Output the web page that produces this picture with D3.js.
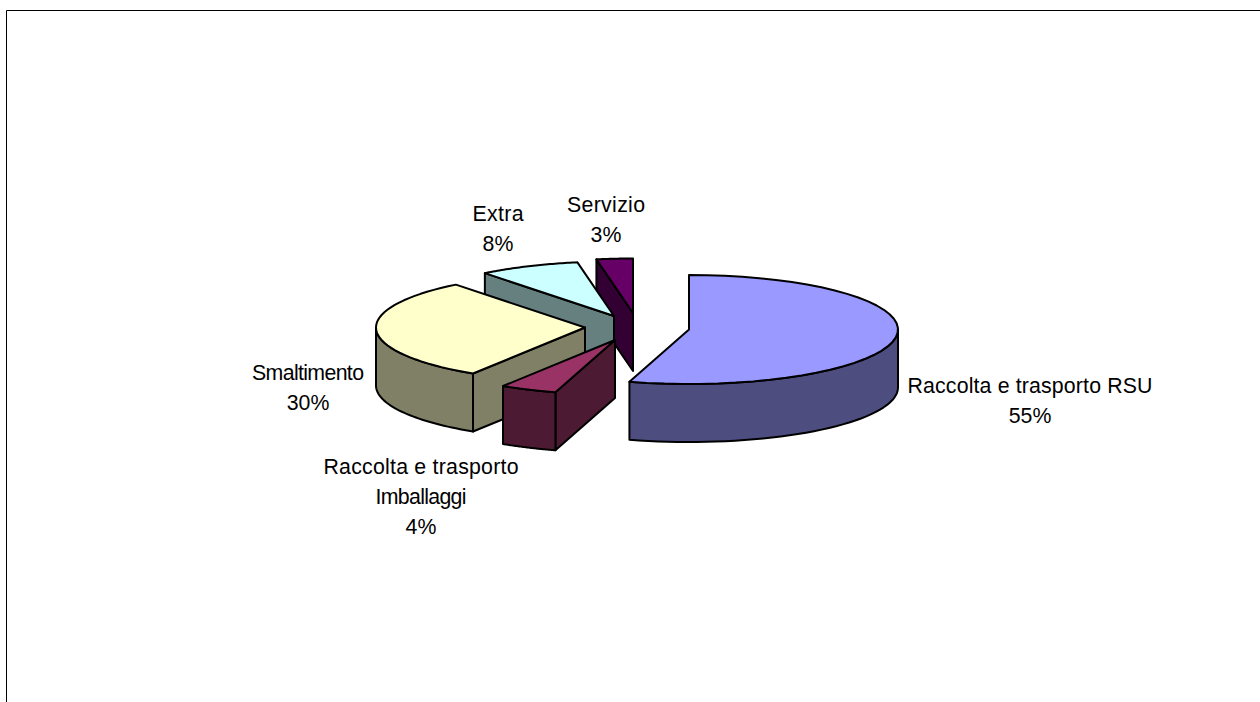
<!DOCTYPE html>
<html><head><meta charset="utf-8">
<script src="https://cdn.jsdelivr.net/npm/d3@7/dist/d3.min.js"></script>
<style>html,body{margin:0;padding:0;background:#fff;overflow:hidden}svg{display:block}</style>
</head><body><svg id="c" width="1260" height="702"></svg>
<script>
// Data
const categories = ["Raccolta e trasporto RSU","Raccolta e trasporto Imballaggi","Smaltimento","Extra","Servizio"];
const values = [54.6,4.4,30.4,7.8,2.8];
const labelLines = [["Raccolta e trasporto RSU"],["Raccolta e trasporto","Imballaggi"],["Smaltimento"],["Extra"],["Servizio"]];
const topColors = ["#9999FF","#993366","#FFFFCC","#CCFFFF","#660066"];
const sideColors = ["#4D4D80","#4D1A33","#808066","#668080","#330033"];

// Layout
const rx = 209, ry = 54.5, depth = 58;
const apexX = [689,615,585,614,633], apexY = [329.5,340,327.5,316,313];
const labelX = [1030,421,308,498,606], labelY = [386,467,373,213.5,205];
const labelWidths = [[245],[195,91],[112],[51],[78]];
const lineGap = 29.8;
const drawOrder = [4,3,2,1,0];

const svg = d3.select("#c");
const slices = d3.pie().sort(null).startAngle(0).endAngle(2*Math.PI)(values);
const line = d3.line();
const rim = (i,a) => [apexX[i]+rx*Math.sin(a), apexY[i]-ry*Math.cos(a)];
const arcPts = (i,a0,a1) => d3.range(0,41).map(k => rim(i,a0+(a1-a0)*k/40));
const down = p => [p[0],p[1]+depth];
const style = s => s.attr("stroke","#000").attr("stroke-width",2).attr("stroke-linejoin","round");

drawOrder.forEach(i=>{
  const s = slices[i], ap=[apexX[i],apexY[i]];
  // visible cut face
  if(s.startAngle>=Math.PI){
    const e = rim(i,s.startAngle);
    svg.append("path").attr("d",line([ap,e,down(e),down(ap)])+"Z").attr("fill",sideColors[i]).call(style);
  }
  // outer wall (front half of the rim only)
  const a0=Math.max(s.startAngle,Math.PI/2), a1=Math.min(s.endAngle,3*Math.PI/2);
  if(a1>a0){
    const t=arcPts(i,a0,a1);
    svg.append("path").attr("d",line(t.concat(t.slice().reverse().map(down)))+"Z").attr("fill",sideColors[i]).call(style);
  }
  // top face
  svg.append("path").attr("d",line([ap].concat(arcPts(i,s.startAngle,s.endAngle)))+"Z").attr("fill",topColors[i]).call(style);
});

// Labels
const total = d3.sum(values);
categories.forEach((c,i)=>{
  const lines = labelLines[i].concat(d3.format(".0%")(values[i]/total));
  lines.forEach((l,k)=>{
    const t = svg.append("text").attr("font-family","'Liberation Sans',Arial,sans-serif").attr("font-size",21.3)
      .attr("text-anchor","middle").attr("fill","#000")
      .attr("x",labelX[i]).attr("y",labelY[i]+k*lineGap).attr("dy","0.35em").text(l);
    const w = labelWidths[i][k];
    if(w) t.attr("textLength",w).attr("lengthAdjust","spacing");
  });
});

// Frame
svg.append("path").attr("d",line([[6.5,702],[6.5,10.5],[1260,10.5]])).attr("fill","none").attr("stroke","#000").attr("stroke-width",1);
</script></body></html>
